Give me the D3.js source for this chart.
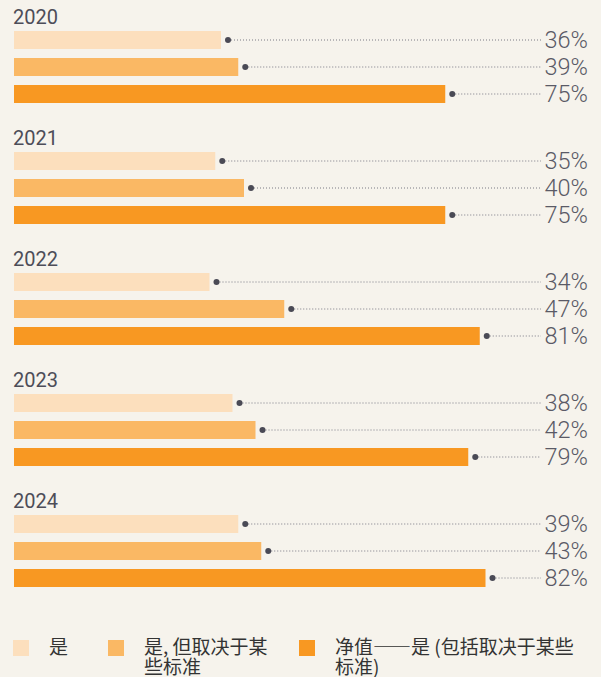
<!DOCTYPE html>
<html lang="zh">
<head>
    <meta charset="UTF-8">
    <title>Chart</title>
    <style>
        body {
            margin: 0;
            padding: 0;
            background-color: #f6f3ec;
        }
        svg text {
            font-family: Roboto, "Noto Sans CJK SC", sans-serif;
        }
        svg .legend text {
            font-family: "Noto Sans CJK SC", sans-serif;
        }
    </style>
    <script src="https://d3js.org/d3.v7.min.js"></script>
</head>
<body>
    <div id="chart"></div>

    <script>
        // data
        const years = ["2020", "2021", "2022", "2023", "2024"];
        const yes = [36, 35, 34, 38, 39];
        const yesDepends = [39, 40, 47, 42, 43];
        const netYes = [75, 75, 81, 79, 82];
        const seriesNames = ["是", "是, 但取决于某些标准", "净值——是 (包括取决于某些标准)"];
        const colors = ["#fcdfbd", "#fab864", "#f89822"];

        const width = 601, height = 677;
        const series = [yes, yesDepends, netYes];

        const svg = d3.select("#chart")
            .append("svg")
            .attr("width", width)
            .attr("height", height);

        const x = d3.scaleLinear()
            .domain([0, 100])
            .range([14, 589]);

        const yGroup = d3.scaleBand()
            .domain(years)
            .range([8, 8 + 121 * years.length]);

        const yInner = d3.scaleBand()
            .domain([0, 1, 2])
            .range([23, 95])
            .paddingInner(1 / 3);

        const labelX = 588;
        const lineEnd = 541;

        const groups = svg.selectAll(".group")
            .data(years)
            .enter().append("g")
            .attr("class", "group")
            .attr("transform", d => `translate(0,${yGroup(d)})`);

        groups.append("text")
            .attr("x", 13)
            .attr("y", 16)
            .attr("font-size", 20)
            .attr("fill", "#4d4d58")
            .text(d => d);

        groups.each(function (year, gi) {
            const g = d3.select(this);
            const rows = series.map((s, si) => ({ si, v: s[gi] }));

            g.selectAll("rect")
                .data(rows)
                .enter().append("rect")
                .attr("x", x(0))
                .attr("y", d => yInner(d.si))
                .attr("width", d => x(d.v) - x(0))
                .attr("height", yInner.bandwidth())
                .attr("fill", d => colors[d.si]);

            const cy = d => yInner(d.si) + yInner.bandwidth() / 2;

            g.selectAll(".lead")
                .data(rows)
                .enter().append("line")
                .attr("class", "lead")
                .attr("x1", d => x(d.v) + 10)
                .attr("x2", lineEnd)
                .attr("y1", cy)
                .attr("y2", cy)
                .attr("stroke", "#7a7a84")
                .attr("stroke-width", 1)
                .attr("stroke-dasharray", "1,2");

            g.selectAll(".dot")
                .data(rows)
                .enter().append("circle")
                .attr("class", "dot")
                .attr("cx", d => x(d.v) + 7)
                .attr("cy", cy)
                .attr("r", 3)
                .attr("fill", "#4a4a55");

            g.selectAll(".val")
                .data(rows)
                .enter().append("text")
                .attr("class", "val")
                .attr("x", labelX)
                .attr("y", cy)
                .attr("dy", "0.36em")
                .attr("text-anchor", "end")
                .attr("font-size", 23.5)
                .attr("font-weight", 300)
                .attr("fill", "#5a5a66")
                .text(d => d.v + "%");
        });

        // legend
        const legendX = [13, 108, 299];
        const legendWrap = [80, 128, 246];

        const legend = svg.selectAll(".legend")
            .data(seriesNames)
            .enter().append("g")
            .attr("class", "legend")
            .attr("transform", (d, i) => `translate(${legendX[i]},640)`);

        legend.append("rect")
            .attr("width", 16)
            .attr("height", 16)
            .attr("fill", (d, i) => colors[i]);

        legend.each(function (name, i) {
            const t = d3.select(this).append("text")
                .attr("x", 36)
                .attr("y", 14)
                .attr("font-size", 19)
                .attr("fill", "#333");
            // wrap character by character
            let line = "";
            let tspan = t.append("tspan").attr("x", t.attr("x")).attr("dy", 0);
            for (const ch of name) {
                tspan.text(line + ch);
                if (tspan.node().getComputedTextLength() > legendWrap[i] && line.length) {
                    tspan.text(line);
                    line = ch;
                    tspan = t.append("tspan").attr("x", t.attr("x")).attr("dy", 20).text(ch);
                } else {
                    line += ch;
                }
            }
        });
    </script>
</body>
</html>
